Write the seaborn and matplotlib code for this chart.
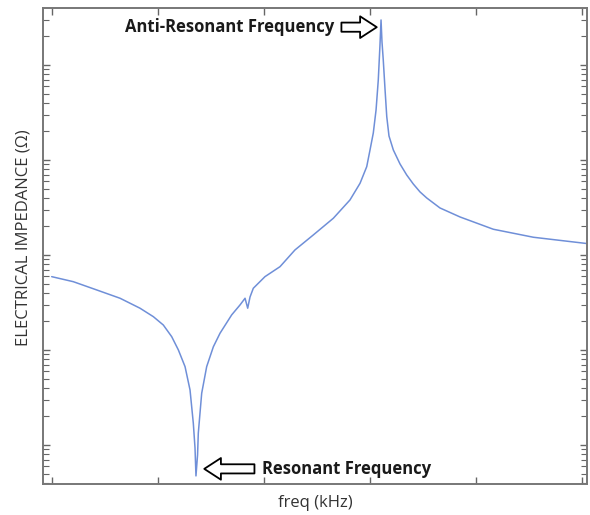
import matplotlib
matplotlib.use("Agg")
import matplotlib.pyplot as plt
import seaborn as sns
import pandas as pd

# frequency (kHz, arbitrary scale) and impedance (ohm)
freq_khz = [9.97, 12.01, 14.22, 16.42, 18.30, 19.56, 20.50, 21.29, 21.92, 22.55,
            23.02, 23.33, 23.49, 23.58, 23.73, 23.80, 24.12, 24.59, 25.22, 25.85,
            26.95, 27.74, 28.21, 28.46, 28.68, 28.99, 30.09, 31.51, 32.92, 34.65,
            36.54, 38.11, 39.06, 39.69, 40.00, 40.31, 40.57, 40.78, 40.94, 41.04,
            41.13, 41.25, 41.42, 41.58, 41.79, 42.20, 42.83, 43.46, 44.08, 44.72,
            45.35, 46.60, 48.49, 51.63, 55.41, 60.38]
impedance = [591, 523, 428, 350, 275, 224, 183, 138, 100, 66.7,
             37.9, 16.9, 9.30, 4.72, 7.85, 13.3, 35.0, 66.7, 108, 150,
             234, 298, 350, 275, 361, 446, 591, 753, 1129, 1624,
             2434, 3793, 5684, 8503, 12740, 19240, 33600, 69530, 162400, 297700,
             174700, 112900, 54560, 28560, 17890, 12740, 9076, 6953, 5589, 4605,
             3981, 3124, 2512, 1865, 1536, 1322]
x_ticks = [10, 20, 30, 40, 50, 60]

sns.set_theme(style="white")
plt.rcParams['font.family'] = ['Open Sans', 'DejaVu Sans']

df = pd.DataFrame({"freq": freq_khz, "Z": impedance})

fig = plt.figure(figsize=(5.9, 5.15), dpi=100)
ax = fig.add_axes([0.0729, 0.0602, 0.922, 0.9243])
sns.lineplot(data=df, x="freq", y="Z", ax=ax, color="#6f8fd8", linewidth=1.1,
             sort=False, estimator=None)
ax.set_yscale("log")
ax.set_xlim(9.15, 60.47)
ax.set_ylim(3.88, 398000)
ax.set_xticks(x_ticks)
ax.tick_params(which="both", direction="in", top=True, right=True, bottom=True, left=True,
               labelbottom=False, labelleft=False, color="#666666")
ax.tick_params(which="major", length=5, width=1)
ax.tick_params(which="minor", length=4, width=0.8)
for s in ax.spines.values():
    s.set_color("#777777")
    s.set_linewidth(1.4)

ax.set_xlabel("freq (kHz)", fontsize=12, color="#333333", labelpad=8)
ax.set_ylabel("ELECTRICAL IMPEDANCE (Ω)", fontsize=12, color="#333333")
ax.yaxis.set_label_coords(-0.022, 0.517)

arrow_style = dict(arrowstyle="simple,head_length=1.0,head_width=1.3,tail_width=0.55",
                   fc="white", ec="black", lw=1.3, shrinkA=3, shrinkB=2)
ax.annotate("Anti-Resonant Frequency", xy=(40.9, 250000), xytext=(36.6, 250000),
            textcoords="data", ha="right", va="center", fontsize=12, fontweight="bold",
            color="#1a1a1a", arrowprops=arrow_style)
ax.annotate("Resonant Frequency", xy=(24.1, 5.6), xytext=(29.8, 5.6),
            textcoords="data", ha="left", va="center", fontsize=12, fontweight="bold",
            color="#1a1a1a", arrowprops=arrow_style)

fig.savefig("out.png", dpi=100)
